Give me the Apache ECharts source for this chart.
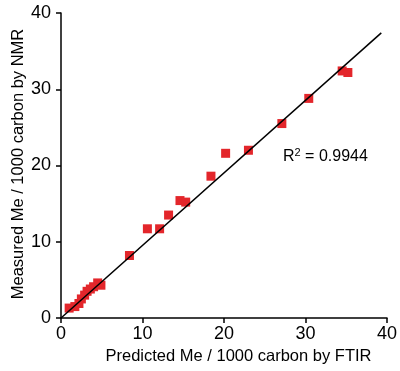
<!DOCTYPE html>
<html><head><meta charset="utf-8">
<script src="https://cdn.jsdelivr.net/npm/echarts@6/dist/echarts.min.js"></script>
<style>html,body{margin:0;padding:0;background:#fff}#c{width:400px;height:371px}</style>
</head><body><div id="c"></div>
<script>
const xTicks = [0, 10, 20, 30, 40];
const yTicks = [0, 10, 20, 30, 40];
const predictedFTIR = [1.0, 1.7, 2.2, 2.5, 2.9, 3.2, 3.6, 4.0, 4.5, 4.9,
  8.4, 10.6, 12.1, 13.2, 14.6, 15.3, 18.4, 20.2, 23.0, 27.1, 30.4, 34.5, 35.2];
const measuredNMR = [1.3, 1.5, 1.9, 2.5, 3.0, 3.5, 3.8, 4.1, 4.6, 4.3,
  8.2, 11.7, 11.7, 13.5, 15.4, 15.2, 18.6, 21.6, 22.0, 25.5, 28.8, 32.4, 32.2];
const fitX = [0, 39.3];
const fitY = [0, 37.4];
const r2Text = '0.9944';

const chart = echarts.init(document.getElementById('c'));
const font = 'Liberation Sans, Arial, sans-serif';
chart.setOption({
  animation: false,
  grid: {left: 61, right: 13, top: 13, bottom: 53},
  xAxis: {
    type: 'value', min: 0, max: 40, interval: 10,
    axisLine: {lineStyle: {color: '#000', width: 1.5}},
    axisTick: {length: 5, lineStyle: {color: '#000', width: 1.5}},
    axisLabel: {color: '#000', fontSize: 18, fontFamily: font, margin: 7},
    splitLine: {show: false}
  },
  yAxis: {
    type: 'value', min: 0, max: 40, interval: 10,
    axisLine: {show: true, lineStyle: {color: '#000', width: 1.5}},
    axisTick: {show: true, length: 5, lineStyle: {color: '#000', width: 1.5}},
    axisLabel: {color: '#000', fontSize: 18, fontFamily: font, margin: 10},
    splitLine: {show: false}
  },
  series: [
    {
      type: 'line', data: fitX.map((x, i) => [x, fitY[i]]),
      symbol: 'none', lineStyle: {color: '#000', width: 1.5}, z: 3
    },
    {
      type: 'scatter', data: predictedFTIR.map((x, i) => [x, measuredNMR[i]]),
      symbol: 'rect', symbolSize: 9, itemStyle: {color: '#e3262b', opacity: 1}, z: 2
    }
  ],
  graphic: [
    {type: 'text', x: 238.5, y: 356, style: {text: 'Predicted Me / 1000 carbon by FTIR', font: '16.5px ' + font, fill: '#000', align: 'center', verticalAlign: 'middle'}},
    {type: 'text', x: 18, y: 164, rotation: Math.PI / 2, style: {text: 'Measured Me / 1000 carbon by NMR', font: '16.5px ' + font, fill: '#000', align: 'center', verticalAlign: 'middle'}},
    {type: 'text', x: 283, y: 156, style: {
      text: '{a|R}{s|2}{a| = ' + r2Text + '}', verticalAlign: 'middle',
      rich: {a: {fontSize: 16, fontFamily: font, fill: '#000', verticalAlign: 'bottom'},
             s: {fontSize: 11, fontFamily: font, fill: '#000', verticalAlign: 'top', padding: [0, 0, 6, 0]}}
    }}
  ]
});
</script></body></html>
